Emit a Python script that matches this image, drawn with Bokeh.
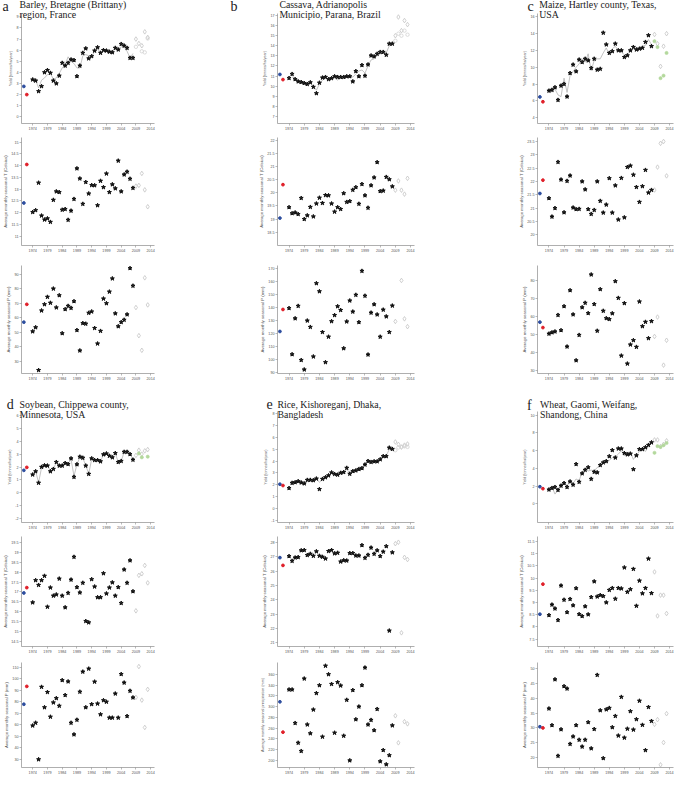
from bokeh.plotting import figure
from bokeh.layouts import row, column
from bokeh.models import FixedTicker, Range1d, NumeralTickFormatter, Div
from bokeh.embed import file_html
from bokeh.resources import INLINE

NaN = float("nan")

# ---------------- data ----------------
years_obs = list(range(1974, 2009))
years_fit = list(range(1975, 2009))
years_proj = list(range(2009, 2014))
year_blue = 1971
year_red = 1972
x_ticks = [1974, 1979, 1984, 1989, 1994, 1999, 2004, 2009, 2014]

# a: Barley, Bretagne
a_yield = [3.35, 3.25, 2.3, 2.75, 4.0, 4.2, 3.95, 3.25, 3.0, 3.7, 4.85, 4.6, 4.85, 5.15, 5.1, 3.65, 4.6, 5.75,
           6.15, 5.25, 5.45, 5.95, 6.25, 5.75, 6.0, 5.95, 5.85, 5.8, 6.2, 6.05, 6.55, 6.4, 6.2, 5.3, 5.3]
a_yield_fit = [3.3, 2.6, 3.3, 3.5, 3.8, 3.9, 3.4, 3.5, 3.9, 4.4, 4.7, 5.4, 5.0, 4.8, 4.4, 4.4, 5.5, 5.6, 5.5,
               5.4, 5.9, 6.1, 5.8, 5.9, 5.9, 5.8, 5.9, 6.1, 6.1, 6.3, 6.3, 5.9, 5.3, 5.7]
a_yield_blue, a_yield_red = 2.74, 2.0
a_yield_proj = [7.0, 6.6, 6.4, 7.65, 7.15]
a_yield_proj2 = [6.3, NaN, 5.9, 5.8, 7.05]
a_temp = [12.02, 12.1, 13.27, 11.87, 11.7, 11.75, 11.6, 12.54, 12.9, 12.87, 12.12, 12.15, 11.69, 12.08, 12.58,
          13.88, 13.45, 12.37, 13.3, 12.81, 13.17, 13.16, 12.31, 13.35, 13.08, 13.66, 12.87, 13.2, 13.03, 14.21,
          12.9, 13.62, 13.74, 13.44, 13.05]
a_temp_blue, a_temp_red = 12.41, 14.05
a_temp_proj = [13.13, 13.16, 13.67, 12.97, 12.25]
a_prec = [50.5, 53.3, 23.8, 64.9, 69.2, 74.3, 70.2, 80.0, 67.0, 75.4, 49.2, 65.8, 68.1, 66.7, 71.3, 51.4, 37.3,
          56.2, 55.8, 63.3, 64.2, 52.8, 42.1, 50.8, 73.1, 69.9, 77.9, 87.0, 62.9, 54.0, 56.9, 58.5, 62.2, 94.1, 82.0]
a_prec_blue, a_prec_red = 56.9, 69.2
a_prec_proj = [67.0, 47.6, 37.5, 87.5, 68.8]

# b: Cassava, Adrianopolis
b_yield = [10.8, 11.2, 10.68, 10.46, 10.4, 10.3, 10.2, 10.37, 9.92, 9.29, 10.33, 10.84, 10.9, 10.68, 10.78, 10.97,
           10.9, 10.9, 10.9, 10.97, 10.97, 10.46, 11.48, 10.97, 12.08, 11.03, 12.14, 13.03, 12.94, 13.2, 13.38,
           13.38, 13.1, 14.2, 14.2]
b_yield_fit = [10.9, 10.8, 10.5, 10.4, 10.3, 10.3, 10.3, 10.0, 9.6, 10.2, 10.6, 10.8, 10.7, 10.7, 10.8, 10.6, 10.8,
               10.9, 10.9, 11.0, 10.9, 11.2, 11.5, 11.6, 11.3, 12.0, 12.6, 12.7, 13.0, 13.2, 13.3, 13.3, 14.0, 14.3]
b_yield_blue, b_yield_red = 11.16, 10.65
b_yield_proj = [15.0, 16.85, 15.5, 16.5, 16.1]
b_yield_proj2 = [14.5, 15.2, 15.0, 15.5, 15.1]
b_temp = [19.45, 19.22, 19.25, 19.19, 19.8, 19.0, 19.14, 19.46, 19.1, 19.59, 19.81, 19.61, 19.91, 19.9, 19.59,
          19.28, 19.45, 19.38, 19.98, 19.65, 19.68, 20.11, 20.21, 19.58, 20.33, 19.9, 19.43, 20.28, 20.58, 21.16,
          20.06, 20.08, 20.6, 20.51, 20.24]
b_temp_blue, b_temp_red = 19.04, 20.31
b_temp_proj = [20.1, 20.45, 20.1, 19.95, 20.55]
b_prec = [139.2, 103.7, 131.3, 140.9, 99.3, 92.0, 129.6, 124.7, 102.0, 158.3, 152.1, 120.8, 97.6, 117.2, 129.1,
          133.8, 140.6, 137.7, 108.3, 128.9, 145.0, 136.5, 149.4, 128.4, 167.8, 148.7, 103.5, 135.7, 142.1, 134.3,
          117.2, 138.0, 132.8, 120.8, 141.1]
b_prec_blue, b_prec_red = 121.3, 138.2
b_prec_proj = [129.0, NaN, 160.5, 131.0, 125.0]

# c: Maize, Hartley county
c_yield = [7.2, 7.3, 7.6, 6.1, 7.8, 8.0, 6.5, 9.3, 10.3, 9.5, 10.9, 10.6, 11.0, 10.8, 9.9, 11.0, 9.7, 9.8, 14.1,
           12.7, 11.7, 11.9, 12.8, 12.0, 12.0, 11.2, 11.4, 12.0, 12.4, 12.1, 12.2, 12.3, 13.0, 13.8, 12.5]
c_yield_fit = [7.0, 7.4, 6.7, 6.5, 8.7, 7.0, 9.0, 9.5, 10.0, 10.4, 11.0, 10.6, 11.6, 9.6, 10.8, 11.0, 11.0, 11.7,
               12.3, 11.5, 12.2, 12.5, 12.0, 11.8, 11.5, 11.5, 11.9, 12.2, 12.2, 12.2, 12.5, 12.6, 13.3, 12.7]
c_yield_blue, c_yield_red = 6.46, 5.89
c_yield_proj = [13.9, 12.8, 10.1, 12.5, 14.0]
c_yield_proj2 = [13.1, 12.4, 8.7, 9.0, 11.7]
c_temp = [21.37, 20.68, 21.0, 22.73, 22.07, 20.84, 22.02, 22.22, 21.02, 20.96, 20.97, 22.0, 21.7, 20.96, 20.78,
          20.93, 22.0, 21.27, 20.83, 21.13, 22.12, 20.83, 21.85, 20.57, 22.13, 20.65, 22.54, 22.59, 22.25, 21.79,
          21.23, 21.82, 22.43, 21.58, 21.68]
c_temp_blue, c_temp_red = 21.55, 22.05
c_temp_proj = [21.68, 22.54, 23.43, 23.5, 22.21]
c_prec = [50.4, 51.1, 51.6, 60.7, 52.3, 65.5, 43.3, 74.3, 61.0, 35.7, 49.7, 64.9, 67.4, 61.7, 83.0, 66.7, 52.0,
          74.9, 63.0, 58.9, 58.4, 61.6, 79.3, 70.1, 38.3, 67.2, 33.9, 44.4, 46.8, 43.1, 68.1, 54.5, 56.9, 47.9, 57.3]
c_prec_blue, c_prec_red = 56.8, 53.8
c_prec_proj = [48.9, 59.6, NaN, 33.1, 46.8]

# d: Soybean, Chippewa county
d_yield = [1.41, 1.66, 0.77, 2.0, 2.12, 2.1, 1.66, 1.84, 2.38, 2.1, 2.1, 2.3, 2.22, 2.66, 1.23, 2.2, 2.79, 2.71,
           2.1, 1.46, 2.66, 2.53, 2.53, 2.43, 2.97, 3.04, 2.86, 2.74, 3.07, 2.38, 2.46, 3.17, 3.17, 2.99, 2.56]
d_yield_fit = [1.66, 0.8, 1.95, 2.1, 2.1, 1.7, 1.85, 2.35, 2.1, 2.1, 2.3, 2.25, 2.6, 1.3, 2.2, 2.75, 2.7, 2.1, 1.5,
               2.6, 2.55, 2.5, 2.45, 2.95, 3.0, 2.85, 2.75, 3.05, 2.4, 2.45, 3.15, 3.15, 3.0, 2.6]
d_yield_blue, d_yield_red = 1.74, 1.97
d_yield_proj = [2.9, 3.3, 3.0, 3.25, 3.35]
d_yield_proj2 = [NaN, 3.05, 2.75, NaN, 2.8]
d_temp = [16.47, 17.59, 17.35, 17.59, 17.81, 16.25, 17.22, 16.81, 16.87, 17.67, 16.81, 16.22, 16.95, 17.62, 18.77,
          17.24, 16.97, 17.46, 15.53, 15.46, 17.64, 17.27, 16.73, 16.73, 17.94, 16.92, 17.22, 17.48, 16.81, 17.24,
          16.44, 18.13, 17.46, 18.59, 17.03]
d_temp_blue, d_temp_red = 16.95, 17.22
d_temp_proj = [16.05, 17.84, 17.92, 18.34, 17.46]
d_prec = [59.3, 61.7, 30.0, 92.8, 75.1, 88.3, 66.9, 79.3, 83.0, 76.4, 98.6, 85.7, 97.5, 61.7, 51.6, 64.3, 88.6,
          106.0, 75.1, 108.6, 77.8, 97.3, 78.3, 69.0, 81.2, 79.9, 66.1, 66.1, 87.0, 66.1, 103.9, 96.5, 67.5, 89.4, 83.6]
d_prec_blue, d_prec_red = 77.8, 93.3
d_prec_proj = [83.8, 110.5, 81.4, 57.7, 90.7]

# e: Rice, Kishoreganj
e_yield = [1.71, 2.15, 2.2, 2.29, 2.18, 2.1, 2.4, 2.4, 2.37, 2.51, 1.62, 2.48, 2.62, 2.78, 3.03, 2.9, 2.84, 3.0,
           3.06, 3.42, 2.92, 3.14, 3.2, 3.31, 3.39, 3.7, 4.0, 3.92, 3.97, 3.97, 4.14, 4.41, 4.41, 5.13, 5.02]
e_yield_fit = [2.0, 2.2, 2.3, 2.2, 2.1, 2.35, 2.4, 2.4, 2.5, 2.2, 2.45, 2.6, 2.75, 2.95, 2.9, 2.85, 3.0, 3.1, 3.3,
               3.0, 3.2, 3.3, 3.5, 3.5, 3.7, 3.95, 3.95, 3.95, 4.0, 4.15, 4.35, 4.45, 5.0, 4.95]
e_yield_blue, e_yield_red = 2.04, 1.93
e_yield_proj = [5.62, 5.42, 5.18, 5.35, 5.45]
e_yield_proj2 = [4.92, 5.15, 5.22, 5.25, 5.2]
e_temp = [27.03, 26.7, 26.93, 26.96, 27.43, 27.45, 27.1, 27.19, 27.05, 27.36, 27.05, 26.98, 26.86, 27.38, 27.45,
          27.22, 27.26, 26.65, 26.74, 26.72, 27.24, 27.24, 27.07, 27.07, 27.79, 26.91, 27.12, 27.62, 27.19, 27.43,
          27.03, 27.34, 27.72, 21.85, 27.29]
e_temp_blue, e_temp_red = 26.93, 26.39
e_temp_proj = [27.9, 28.0, 21.7, 26.95, 26.8]
e_prec = [331.7, 331.7, 269.5, 232.8, 217.5, 352.0, 266.7, 250.3, 294.4, 325.0, 339.6, 244.0, 375.8, 360.0, 341.9,
          251.4, 345.3, 339.0, 245.8, 312.5, 200.0, 330.6, 276.3, 300.0, 339.6, 372.4, 266.7, 275.2, 256.0, 295.5,
          198.3, 219.2, 192.7, 209.6, 265.0]
e_prec_blue, e_prec_red = 309.0, 252.6
e_prec_proj = [283.0, 232.8, NaN, 272.0, 268.0]

# f: Wheat, Gaomi
f_yield = [1.6, 1.78, 1.89, 1.56, 2.04, 2.33, 1.89, 2.51, 2.15, 4.47, 2.47, 3.42, 3.82, 4.11, 2.8, 3.6, 3.53, 4.36,
           4.65, 4.8, 5.35, 6.04, 5.2, 6.22, 6.22, 5.71, 5.56, 5.64, 3.89, 5.45, 6.15, 6.15, 6.36, 6.62, 6.91]
f_yield_fit = [1.9, 1.1, 1.6, 1.9, 2.5, 2.0, 2.6, 2.3, 2.8, 2.6, 3.6, 4.0, 3.7, 3.8, 3.7, 4.1, 4.2, 4.7, 4.6, 4.9,
               5.2, 5.3, 5.6, 6.0, 5.4, 5.8, 5.8, 5.0, 5.5, 5.9, 6.2, 5.9, 6.5, 7.1]
f_yield_blue, f_yield_red = 1.93, 1.71
f_yield_proj = [7.2, 7.2, 6.45, 6.7, 7.1]
f_yield_proj2 = [5.75, 6.5, 6.4, 6.6, 6.85]
f_temp = [8.48, 8.91, 8.75, 8.28, 9.69, 9.11, 8.6, 9.14, 8.88, 9.58, 8.52, 8.44, 8.84, 8.51, 9.22, 9.86, 9.24, 9.3,
          9.26, 9.0, 9.51, 9.59, 9.15, 9.59, 9.57, 10.43, 9.43, 9.54, 10.37, 8.86, 9.89, 9.37, 9.59, 10.79, 9.38]
f_temp_blue, f_temp_red = 8.52, 9.75
f_temp_proj = [10.25, 8.45, 9.3, 9.3, 8.55]
f_prec = [36.5, 30.9, 46.3, 20.6, 29.5, 44.0, 43.2, 24.6, 27.1, 30.9, 26.0, 23.7, 26.0, 31.9, 23.1, 29.6, 47.8,
          35.9, 19.8, 36.2, 36.7, 30.2, 34.0, 27.4, 40.4, 26.7, 29.7, 35.6, 29.4, 32.9, 39.1, 31.0, 22.5, 37.0, 32.3]
f_prec_blue, f_prec_red = 30.4, 30.0
f_prec_proj = [31.2, 32.8, 17.6, 25.1, 34.8]

titles = {
    "a": ("Barley, Bretagne (Brittany)", "region, France"),
    "b": ("Cassava, Adrianopolis", "Municipio, Parana, Brazil"),
    "c": ("Maize, Hartley county, Texas,", "USA"),
    "d": ("Soybean, Chippewa county,", "Minnesota, USA"),
    "e": ("Rice, Kishoreganj, Dhaka,", "Bangladesh"),
    "f": ("Wheat, Gaomi, Weifang,", "Shandong, China"),
}
ylab_yield = "Yield (tonnes/ha/year)"
ylab_temp = "Average monthly seasonal T (Celsius)"
ylab_prec = "Average monthly seasonal P (mm)"
ylab_prec_e = "Average monthly seasonal precipitation (mm)"

# ---------------- layout geometry ----------------
COLS = [dict(w=226, l=17, r=72), dict(w=226, l=51, r=38), dict(w=225, l=85, r=4)]
ROWS = [dict(t=1, f=110, b=12), dict(t=2, f=108, b=12), dict(t=8, f=108, b=12),
        dict(t=1, f=111, b=12), dict(t=2, f=110, b=12), dict(t=4, f=105, b=12)]
HEADER_H = {0: 12, 3: 25}
# header placement (css top of text boxes): letter left, letter top, title left, top line 1, top line 2
HEADER_POS = {
    "a": (2.6, 0.0, 19.5, 0.0, 10.0),
    "b": (4.6, 0.0, 53.4, 0.0, 10.0),
    "c": (75.6, 0.0, 87.3, 0.0, 10.0),
    "d": (6.8, 13.0, 19.5, 15.0, 25.3),
    "e": (40.5, 13.3, 51.5, 15.0, 25.3),
    "f": (75.0, 13.8, 88.0, 15.0, 25.3),
}

GREY_AX = "#8c8c8c"
TXT = "#555555"
GREEN = "#b3d89c"


def frange(a, b, s):
    out, v = [], a
    while v <= b + 1e-9:
        out.append(round(v, 4))
        v += s
    return out


def make_header(ci, ri, key):
    w, h = COLS[ci]["w"], HEADER_H[ri]
    lx, ly, tx, t1, t2 = HEADER_POS[key]
    l1, l2 = titles[key]
    span = ("position:absolute;left:{x}px;top:{y}px;font-size:{s}px;line-height:{s}px;"
            "white-space:nowrap;font-family:'Liberation Serif',serif;color:#1a1a1a;")
    html = (
        f'<div style="position:relative;width:{w}px;height:{h}px;overflow:visible;z-index:5;">'
        f'<span style="{span.format(x=lx, y=ly, s=14)}">{key}</span>'
        f'<span style="{span.format(x=tx, y=t1, s=9.8)}">{l1}</span>'
        f'<span style="{span.format(x=tx, y=t2, s=9.8)}">{l2}</span>'
        '</div>'
    )
    return Div(text=html, width=w, height=h, margin=0, styles={"overflow": "visible", "z-index": "5"})


def make_fig(ci, ri, yr, yticks, ylabel, lab_size, transparent=False):
    c, r = COLS[ci], ROWS[ri]
    p = figure(width=c["w"], height=r["t"] + r["f"] + r["b"],
               x_range=Range1d(1970.2, 2015.3), y_range=Range1d(*yr),
               output_backend="svg", toolbar_location=None, tools="", title_location=None,
               min_border_left=c["l"], min_border_right=c["r"],
               min_border_top=r["t"], min_border_bottom=r["b"])
    p.outline_line_color = None
    p.grid.visible = False
    if transparent:
        p.background_fill_color = None
        p.border_fill_color = None
    else:
        p.background_fill_color = "white"
        p.border_fill_color = "white"
    p.xaxis.ticker = FixedTicker(ticks=x_ticks)
    p.yaxis.ticker = FixedTicker(ticks=yticks)
    p.yaxis.formatter = NumeralTickFormatter(format="0.[0]")
    for ax in (p.xaxis[0], p.yaxis[0]):
        ax.axis_line_color = GREY_AX
        ax.axis_line_width = 0.7
        ax.major_tick_line_color = GREY_AX
        ax.major_tick_line_width = 0.6
        ax.major_tick_in = 0
        ax.major_tick_out = 2
        ax.minor_tick_line_color = None
        ax.major_label_text_font = "Liberation Sans"
        ax.major_label_text_font_size = "3.7px"
        ax.major_label_text_color = TXT
        ax.major_label_standoff = 1
    p.yaxis.axis_label = ylabel
    p.yaxis.axis_label_text_font = "Liberation Sans"
    p.yaxis.axis_label_text_font_size = lab_size
    p.yaxis.axis_label_text_font_style = "normal"
    p.yaxis.axis_label_text_color = TXT
    p.yaxis.axis_label_standoff = 0
    return p


def draw(p, obs, blue, red, proj, proj2=None, proj2_green=False, fit=None):
    if fit is not None:
        p.line(years_fit, fit, line_color="#b4b4b4", line_width=0.8)
    p.scatter(years_proj, proj, marker="diamond", size=4.6, fill_color=None,
              line_color="#c4c4c4", line_width=0.8)
    if proj2 is not None:
        if proj2_green:
            p.scatter(years_proj, proj2, marker="circle", size=3.2, fill_color=GREEN,
                      line_color=GREEN, line_width=0.6)
        else:
            p.scatter(years_proj, proj2, marker="circle", size=3.4, fill_color=None,
                      line_color="#d2d2d2", line_width=0.8)
    p.scatter(years_obs, obs, marker="star", size=4.2, color="#111111")
    p.scatter([year_blue], [blue], marker="circle", size=2.8, color="#2f4f9f")
    p.scatter([year_red], [red], marker="circle", size=2.8, color="#e0202a")


# ---------------- panels ----------------
panels = [
    ("a", 0, 0, "y", a_yield, a_yield_blue, a_yield_red, a_yield_proj, a_yield_proj2, False, a_yield_fit,
     (-0.6, 9.3), frange(0, 9, 1), ylab_yield, "3.6px"),
    ("a", 0, 1, "t", a_temp, a_temp_blue, a_temp_red, a_temp_proj, None, False, None,
     (10.6, 15.2), frange(11, 15, 0.5), ylab_temp, "4.3px"),
    ("a", 0, 2, "p", a_prec, a_prec_blue, a_prec_red, a_prec_proj, None, False, None,
     (21.5, 96), frange(30, 90, 10), ylab_prec, "4.3px"),
    ("b", 1, 0, "y", b_yield, b_yield_blue, b_yield_red, b_yield_proj, b_yield_proj2, False, b_yield_fit,
     (6.3, 17.2), frange(7, 17, 1), ylab_yield, "3.6px"),
    ("b", 1, 1, "t", b_temp, b_temp_blue, b_temp_red, b_temp_proj, None, False, None,
     (18.0, 22.1), frange(18.5, 22, 0.5), ylab_temp, "4.3px"),
    ("b", 1, 2, "p", b_prec, b_prec_blue, b_prec_red, b_prec_proj, None, False, None,
     (89, 172), frange(90, 170, 10), ylab_prec, "4.3px"),
    ("c", 2, 0, "y", c_yield, c_yield_blue, c_yield_red, c_yield_proj, c_yield_proj2, True, c_yield_fit,
     (3.3, 16.4), frange(4, 16, 2), ylab_yield, "3.6px"),
    ("c", 2, 1, "t", c_temp, c_temp_blue, c_temp_red, c_temp_proj, None, False, None,
     (19.6, 23.65), frange(20, 23.5, 0.5), ylab_temp, "4.3px"),
    ("c", 2, 2, "p", c_prec, c_prec_blue, c_prec_red, c_prec_proj, None, False, None,
     (28.5, 88), frange(30, 80, 10), ylab_prec, "4.3px"),
    ("d", 0, 3, "y", d_yield, d_yield_blue, d_yield_red, d_yield_proj, d_yield_proj2, True, d_yield_fit,
     (-2.3, 6.3), frange(-2, 6, 1), ylab_yield, "3.6px"),
    ("d", 0, 4, "t", d_temp, d_temp_blue, d_temp_red, d_temp_proj, None, False, None,
     (14.25, 19.8), frange(14.5, 19.5, 0.5), ylab_temp, "4.3px"),
    ("d", 0, 5, "p", d_prec, d_prec_blue, d_prec_red, d_prec_proj, None, False, None,
     (23, 114), frange(30, 110, 10), ylab_prec, "4.3px"),
    ("e", 1, 3, "y", e_yield, e_yield_blue, e_yield_red, e_yield_proj, e_yield_proj2, False, e_yield_fit,
     (-1.2, 8.2), frange(-1, 8, 1), ylab_yield, "3.6px"),
    ("e", 1, 4, "t", e_temp, e_temp_blue, e_temp_red, e_temp_proj, None, False, None,
     (20.75, 28.4), frange(21, 28, 1), ylab_temp, "4.3px"),
    ("e", 1, 5, "p", e_prec, e_prec_blue, e_prec_red, e_prec_proj, None, False, None,
     (187, 382), frange(200, 360, 20), ylab_prec_e, "3.7px"),
    ("f", 2, 3, "y", f_yield, f_yield_blue, f_yield_red, f_yield_proj, f_yield_proj2, True, f_yield_fit,
     (-2.1, 10.4), frange(0, 10, 2), ylab_yield, "3.6px"),
    ("f", 2, 4, "t", f_temp, f_temp_blue, f_temp_red, f_temp_proj, None, False, None,
     (7.2, 11.7), frange(7.5, 11.5, 0.5), ylab_temp, "4.3px"),
    ("f", 2, 5, "p", f_prec, f_prec_blue, f_prec_red, f_prec_proj, None, False, None,
     (16.7, 52), frange(20, 50, 5), ylab_prec, "4.3px"),
]

grid = [[] for _ in range(3)]
for (key, ci, ri, kind, obs, blue, red, proj, proj2, green, fit, yr, yt, ylab, lsz) in panels:
    is_yield = kind == "y"
    if is_yield:
        grid[ci].append(make_header(ci, ri, key))
    p = make_fig(ci, ri, yr, yt, ylab, lsz, transparent=is_yield)
    draw(p, obs, blue, red, proj, proj2, green, fit)
    grid[ci].append(p)

layout = row(*[column(*grid[ci], spacing=0) for ci in range(3)], spacing=0)

open("out.html", "w").write(file_html(layout, INLINE))
